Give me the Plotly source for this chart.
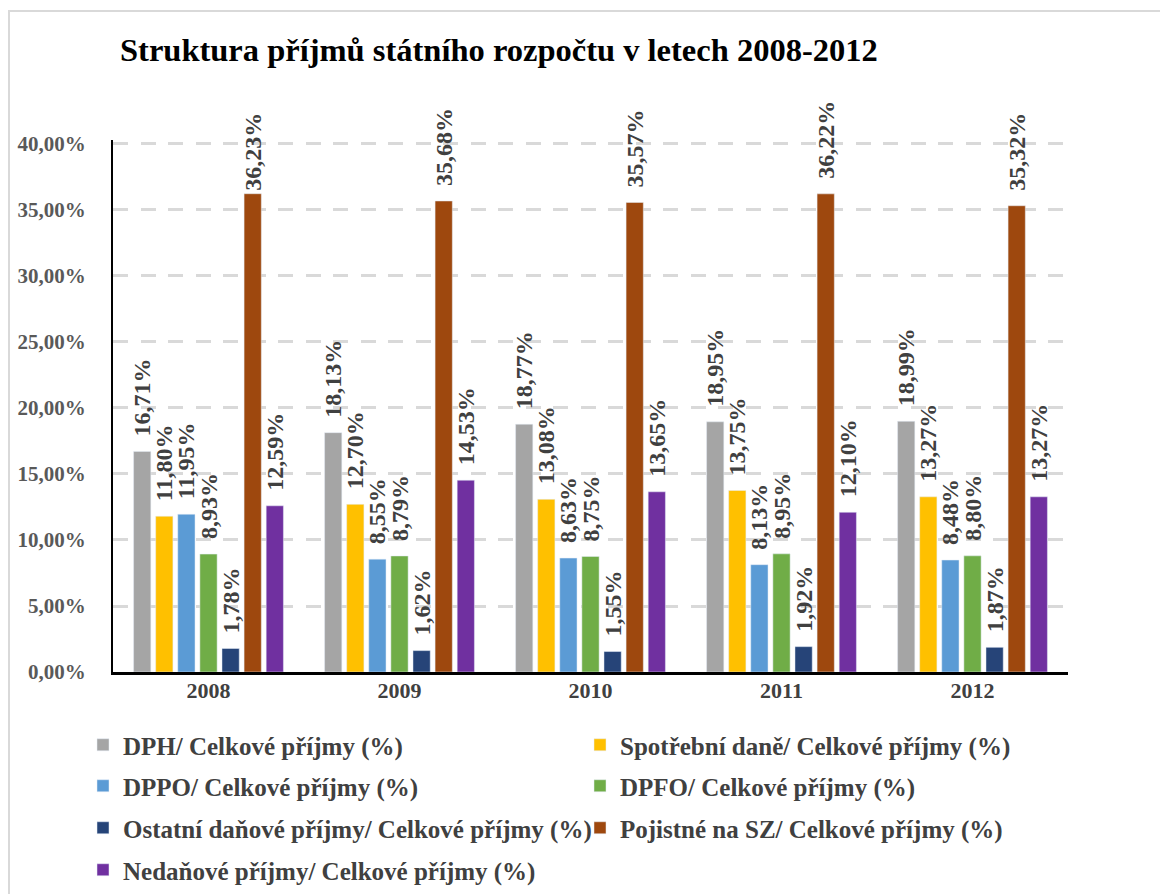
import plotly.graph_objects as go

# values (% of total state budget revenue)
years = ["2008", "2009", "2010", "2011", "2012"]

series_names = [
    "DPH/ Celkové příjmy (%)",
    "Spotřební daně/ Celkové příjmy (%)",
    "DPPO/ Celkové příjmy (%)",
    "DPFO/ Celkové příjmy (%)",
    "Ostatní daňové příjmy/ Celkové příjmy (%)",
    "Pojistné na SZ/ Celkové příjmy (%)",
    "Nedaňové příjmy/ Celkové příjmy (%)",
]

dph = [16.71, 18.13, 18.77, 18.95, 18.99]
spotrebni = [11.80, 12.70, 13.08, 13.75, 13.27]
dppo = [11.95, 8.55, 8.63, 8.13, 8.48]
dpfo = [8.93, 8.79, 8.75, 8.95, 8.80]
ostatni = [1.78, 1.62, 1.55, 1.92, 1.87]
pojistne = [36.23, 35.68, 35.57, 36.22, 35.32]
nedanove = [12.59, 14.53, 13.65, 12.10, 13.27]

colors = ["#A5A5A5", "#FFC000", "#5B9BD5", "#70AD47", "#264478", "#9E480E", "#7030A0"]

SERIF = "Liberation Serif, Times New Roman, serif"

# figure pixels (the page adds an 8px body margin): plot area x 105..1060, y 132..664
W, H = 1168, 894
L, R, T, B = 105, 108, 132, 230
PW, PH = W - L - R, H - T - B
Y_TOP = 40.3  # a little headroom so the 40 % gridline is drawn

LIFT = "\u00a0\u00a0"  # leading no-break spaces lift the rotated label off the bar
LABEL = LIFT + "%{y:.2f}%"


def py(y_px):
    return (H - B - y_px) / PH


def px_(x_px):
    return (x_px - L) / PW


values = [dph, spotrebni, dppo, dpfo, ostatni, pojistne, nedanove]
legend_of = ["legend", "legend", "legend2", "legend2", "legend3", "legend3", "legend4"]

fig = go.Figure()
for name, vals, col, lg in zip(series_names, values, colors, legend_of):
    template = LABEL
    if vals is pojistne:
        # in the original the first (tallest) label is pushed down onto the bar
        template = ["%{y:.2f}%"] + [LABEL] * (len(vals) - 1)
    fig.add_trace(go.Bar(
        x=years, y=vals, name=name, marker_color=col, legend=lg,
        texttemplate=template, textposition="outside", textangle=-90,
        constraintext="none", cliponaxis=False,
        textfont=dict(family=SERIF, size=24, color="#404040", weight="bold"),
    ))

legend_style = dict(
    orientation="h", xanchor="left", yanchor="middle", x=px_(75),
    entrywidth=452, entrywidthmode="pixels", itemwidth=30,
    font=dict(family=SERIF, size=25, color="#404040", weight="bold"),
    bgcolor="rgba(0,0,0,0)", traceorder="normal",
)

fig.update_layout(
    width=W, height=H,
    margin=dict(l=L, r=R, t=T, b=B, autoexpand=False),
    paper_bgcolor="white", plot_bgcolor="white",
    separators=", ",
    barmode="group", bargap=0.19, bargroupgap=0.22,
    title=dict(
        text="<b>Struktura příjmů státního rozpočtu v letech 2008-2012</b>",
        x=112 / W, xanchor="left", y=1 - 42 / H, yanchor="middle",
        font=dict(family=SERIF, size=32.5, color="black"),
    ),
    legend=dict(legend_style, y=py(737)),
    legend2=dict(legend_style, y=py(778)),
    legend3=dict(legend_style, y=py(820)),
    legend4=dict(legend_style, y=py(862)),
    xaxis=dict(
        showline=True, linecolor="black", linewidth=2.5,
        tickfont=dict(family=SERIF, size=22, color="#404040", weight="bold"),
        ticklabelstandoff=-3,
    ),
    yaxis=dict(
        range=[0, Y_TOP], dtick=5, tickformat=".2f", ticksuffix="%",
        showline=True, linecolor="black", linewidth=2,
        showgrid=True, gridcolor="#D9D9D9", gridwidth=3, griddash="15px,12.5px",
        zeroline=False,
        tickfont=dict(family=SERIF, size=21, color="#595959", weight="bold"),
        ticklabelstandoff=21,
    ),
    shapes=[dict(
        type="rect", xref="paper", yref="paper",
        x0=px_(1), x1=px_(1190), y0=py(920), y1=py(3),
        line=dict(color="#D9D9D9", width=2), fillcolor="rgba(0,0,0,0)", layer="below",
    )],
)

fig.write_html("out.html")
